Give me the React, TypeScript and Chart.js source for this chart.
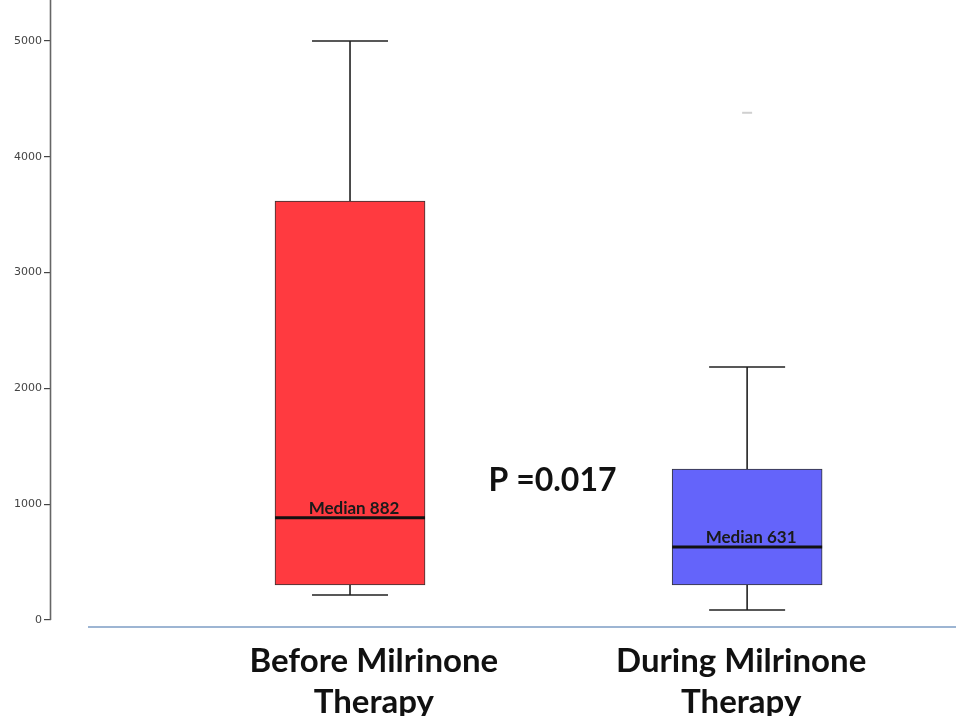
import { useEffect, useRef } from 'react';
import { Chart, registerables } from 'chart.js';
Chart.register(...registerables);

const categories = ['Before Milrinone Therapy', 'During Milrinone Therapy'];
const labelLines = [['Before Milrinone', 'Therapy'], ['During Milrinone', 'Therapy']];
const positions = [1, 2];
const labelPositions = [1.06, 1.985];
const whiskerLow = [216, 86];
const q1 = [302, 302];
const median = [882, 631];
const q3 = [3618, 1304];
const whiskerHigh = [5000, 2185];
const outliers: number[][] = [[], [4380]];
const boxColors = ['#ff3a40', '#6464fa'];
const yTicks = [0, 1000, 2000, 3000, 4000, 5000];
const pValueText = 'P =0.017';
const pValuePos = { x: 1.51, y: 1200 };
const baseLineValue = -60;

const boxPlugin = {
  id: 'boxExtras',
  afterDraw(chart: any) {
    const ctx = chart.ctx;
    const xs = chart.scales.x;
    const ys = chart.scales.y;
    const area = chart.chartArea;
    ctx.save();
    // y axis line
    ctx.strokeStyle = '#666';
    ctx.lineWidth = 1.6;
    ctx.beginPath();
    ctx.moveTo(area.left - 0.5, 0);
    ctx.lineTo(area.left - 0.5, ys.getPixelForValue(0));
    ctx.stroke();
    // baseline
    ctx.strokeStyle = '#7d9cc4';
    ctx.lineWidth = 1.5;
    ctx.beginPath();
    const by = ys.getPixelForValue(baseLineValue);
    ctx.moveTo(88, by);
    ctx.lineTo(chart.width, by);
    ctx.stroke();

    positions.forEach((p, i) => {
      const x = xs.getPixelForValue(p);
      const half = 75;
      const cap = 38;
      ctx.strokeStyle = '#222';
      ctx.lineWidth = 1.6;
      ctx.beginPath();
      ctx.moveTo(x, ys.getPixelForValue(q3[i]));
      ctx.lineTo(x, ys.getPixelForValue(whiskerHigh[i]));
      ctx.moveTo(x - cap, ys.getPixelForValue(whiskerHigh[i]));
      ctx.lineTo(x + cap, ys.getPixelForValue(whiskerHigh[i]));
      ctx.moveTo(x, ys.getPixelForValue(q1[i]));
      ctx.lineTo(x, ys.getPixelForValue(whiskerLow[i]));
      ctx.moveTo(x - cap, ys.getPixelForValue(whiskerLow[i]));
      ctx.lineTo(x + cap, ys.getPixelForValue(whiskerLow[i]));
      ctx.stroke();
      const my = ys.getPixelForValue(median[i]);
      ctx.strokeStyle = '#111';
      ctx.lineWidth = 3;
      ctx.beginPath();
      ctx.moveTo(x - half, my);
      ctx.lineTo(x + half, my);
      ctx.stroke();
      ctx.fillStyle = '#1a1a1a';
      ctx.font = 'bold 17px Lato';
      ctx.textAlign = 'center';
      ctx.textBaseline = 'alphabetic';
      ctx.fillText('Median ' + median[i], x + 4, my - 4);
      outliers[i].forEach((v) => {
        const oy = ys.getPixelForValue(v);
        ctx.strokeStyle = '#d0d0d0';
        ctx.lineWidth = 2;
        ctx.beginPath();
        ctx.moveTo(x - 5, oy);
        ctx.lineTo(x + 5, oy);
        ctx.stroke();
      });
    });

    ctx.fillStyle = '#111';
    ctx.font = 'bold 32px Lato';
    ctx.textAlign = 'center';
    ctx.textBaseline = 'middle';
    ctx.fillText(pValueText, xs.getPixelForValue(pValuePos.x), ys.getPixelForValue(pValuePos.y));
    ctx.restore();
  },
};

export default function App() {
  const ref = useRef<HTMLCanvasElement>(null);
  useEffect(() => {
    document.body.style.margin = '0';
    const chart = new Chart(ref.current!, {
      type: 'bar',
      data: {
        labels: categories,
        datasets: [
          {
            data: positions.map((p, i) => ({ x: p, y: [q1[i], q3[i]] })) as any,
            backgroundColor: boxColors,
            borderColor: '#333',
            borderWidth: 1,
            borderSkipped: false,
            barThickness: 150,
          },
        ],
      },
      options: {
        animation: false,
        responsive: true,
        maintainAspectRatio: false,
        layout: { padding: 0 },
        plugins: { legend: { display: false }, tooltip: { enabled: false } },
        scales: {
          x: {
            type: 'linear',
            offset: false,
            min: 0.247,
            max: 2.526,
            afterBuildTicks: (s: any) => {
              s.ticks = labelPositions.map((v) => ({ value: v }));
            },
            afterFit: (s: any) => {
              s.height = 96;
              s.paddingLeft = 0;
              s.paddingRight = 0;
            },
            grid: { display: false, drawTicks: false },
            border: { display: false },
            ticks: {
              autoSkip: false,
              maxRotation: 0,
              padding: 21,
              color: '#111',
              font: { family: 'Lato', weight: 'bold', size: 33, lineHeight: 1.24 },
              callback: (_v: any, i: number) => labelLines[i],
            },
          },
          y: {
            min: 0,
            max: 5354,
            afterBuildTicks: (s: any) => {
              s.ticks = yTicks.map((v) => ({ value: v }));
            },
            afterFit: (s: any) => {
              s.width = 51;
              s.paddingTop = 0;
              s.paddingBottom = 0;
            },
            grid: { drawOnChartArea: false, tickLength: 7, color: '#444', lineWidth: 1.2 },
            border: { display: false },
            ticks: {
              padding: 2,
              color: '#444',
              font: { family: 'DejaVu Sans', size: 11 },
              callback: (v: any) => String(v),
            },
          },
        },
      },
      plugins: [boxPlugin],
    });
    return () => chart.destroy();
  }, []);
  return (
    <div style={{ position: 'fixed', left: 0, top: 0, width: 956, height: 716 }}>
      <canvas ref={ref} />
    </div>
  );
}
